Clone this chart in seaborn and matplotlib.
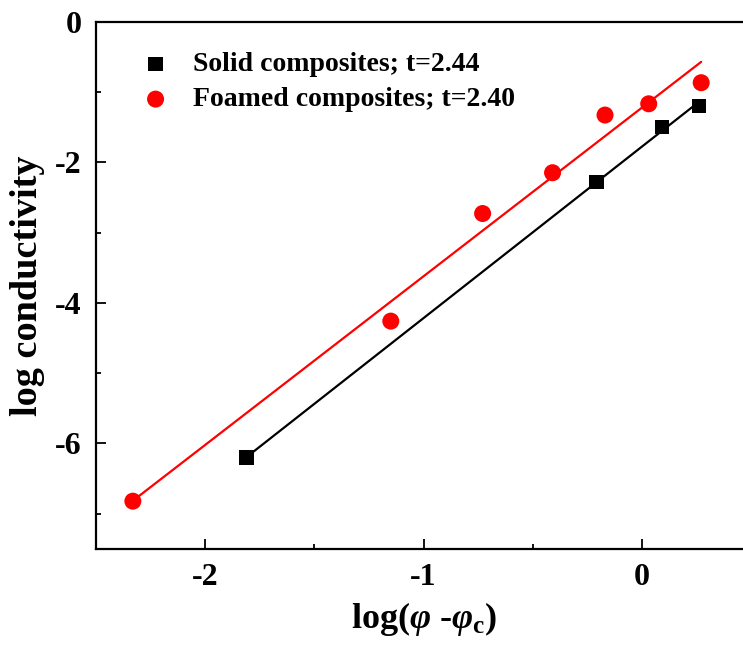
import numpy as np
import seaborn as sns
import matplotlib.pyplot as plt
from matplotlib.ticker import MultipleLocator

# values
solid_x = [-1.81, -0.21, 0.09, 0.26]
solid_y = [-6.20, -2.28, -1.50, -1.20]
foam_x = [-2.33, -1.15, -0.73, -0.41, -0.17, 0.03, 0.27]
foam_y = [-6.82, -4.26, -2.73, -2.15, -1.33, -1.17, -0.87]
solid_label = 'Solid composites; t=2.44'
foam_label = 'Foamed composites; t=2.40'

sns.set_theme(style='ticks')
plt.rcParams['font.family'] = ['Liberation Serif', 'DejaVu Serif']
plt.rcParams['font.weight'] = 'bold'
plt.rcParams['axes.labelweight'] = 'bold'
plt.rcParams['text.color'] = 'black'
plt.rcParams['axes.labelcolor'] = 'black'
plt.rcParams['axes.unicode_minus'] = False
plt.rcParams['mathtext.fontset'] = 'custom'
plt.rcParams['mathtext.rm'] = 'Liberation Serif:bold'
plt.rcParams['mathtext.it'] = 'Liberation Serif:italic:bold'
plt.rcParams['mathtext.bf'] = 'Liberation Serif:bold'

fig = plt.figure(figsize=(7.43, 6.5), dpi=100)
ax = fig.add_axes([0.1288, 0.1554, 0.8826, 0.8115])

# fitted lines
sns.regplot(x=solid_x, y=solid_y, ci=None, scatter=False, truncate=True,
            color='black', line_kws={'lw': 1.6}, ax=ax)
sns.regplot(x=foam_x, y=foam_y, ci=None, scatter=False, truncate=True,
            color='#ff0000', line_kws={'lw': 1.6}, ax=ax)

# data points
sns.scatterplot(x=solid_x, y=solid_y, marker='s', s=110, color='black',
                edgecolor='none', label=solid_label, ax=ax, zorder=3)
sns.scatterplot(x=foam_x, y=foam_y, marker='o', s=150, color='#ff0000',
                edgecolor='none', label=foam_label, ax=ax, zorder=3)

ax.set_xlim(-2.5, 0.5)
ax.set_ylim(-7.5, 0)
ax.xaxis.set_major_locator(MultipleLocator(1))
ax.xaxis.set_minor_locator(MultipleLocator(0.5))
ax.yaxis.set_major_locator(MultipleLocator(2))
ax.yaxis.set_minor_locator(MultipleLocator(1))
ax.tick_params(which='both', direction='in', width=1.3, colors='black',
               labelsize=23, pad=10)
ax.tick_params(which='major', length=7)
ax.tick_params(which='minor', length=3.6)
for side in ['left', 'bottom', 'top', 'right']:
    ax.spines[side].set_linewidth(1.6)
    ax.spines[side].set_color('black')

ax.set_xlabel(r'log($\mathit{\varphi}$ -$\mathit{\varphi}_{\mathbf{c}}$)',
              fontsize=26, labelpad=6)
ax.set_ylabel('log conductivity', fontsize=27.5, labelpad=7)

ax.legend(loc='upper left', bbox_to_anchor=(0.032, 0.99), frameon=False,
          fontsize=20, handlelength=1.0, handletextpad=0.85,
          labelspacing=0.35, markerscale=1.0)

fig.savefig('out.png', dpi=100)
